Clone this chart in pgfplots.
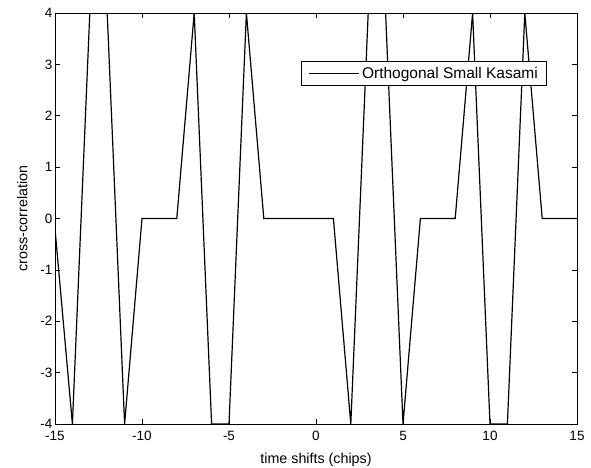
\documentclass[border=0pt]{standalone}
\usepackage{fontspec}
\setmainfont{Liberation Sans}
\usepackage{pgfplots}
\pgfplotsset{compat=1.18}
\begin{document}
\begin{tikzpicture}
\begin{axis}[
  scale only axis, width=522bp, height=411bp,
  xmin=-15, xmax=15, ymin=-4, ymax=4,
  xtick={-15,-10,...,15}, ytick={-4,-3,...,4},
  tick align=inside, major tick length=5bp,
  /pgf/number format/assume math mode=true,
  tick label style={font=\fontsize{13.5bp}{15bp}\selectfont},
  xticklabel style={yshift=-4bp},
  yticklabel style={xshift=1bp},
  label style={font=\fontsize{14.3bp}{16bp}\selectfont},
  xlabel={time shifts (chips)}, ylabel={cross-correlation},
  xlabel style={yshift=-5bp},
  ylabel shift=6bp,
  axis line style={line width=1bp},
  every tick/.style={black, line width=0.7bp},
  legend style={at={(0.943,0.884)}, anchor=north east, draw=black, line width=0.9bp,
    font=\fontsize{15.5bp}{17bp}\selectfont, inner xsep=7bp, inner ysep=4bp},
  legend image code/.code={\draw[#1] (0bp,0bp) -- (50bp,0bp);},
]
\addplot[black, line width=1.2bp] coordinates {
(-15,-0.2) (-14,-4) (-13,4) (-12,4) (-11,-4) (-10,0) (-9,0) (-8,0)
(-7,4) (-6,-4) (-5,-4) (-4,4) (-3,0) (-2,0) (-1,0) (0,0) (1,0)
(2,-4) (3,4) (4,4) (5,-4) (6,0) (7,0) (8,0) (9,4) (10,-4) (11,-4)
(12,4) (13,0) (14,0) (15,0)
};
\addlegendentry{Orthogonal Small Kasami}
\coordinate (bl) at (rel axis cs:0,0);
\coordinate (tr) at (rel axis cs:1,1);
\end{axis}
\pgfresetboundingbox
\path[use as bounding box] ([xshift=-55bp,yshift=-44bp]bl) rectangle ([xshift=14bp,yshift=13bp]tr);
\end{tikzpicture}
\end{document}
